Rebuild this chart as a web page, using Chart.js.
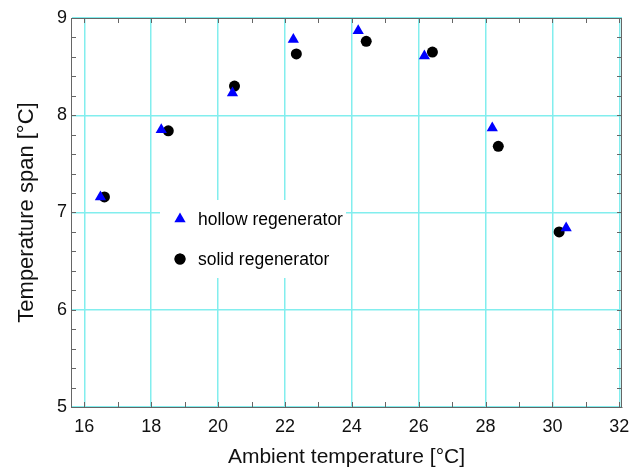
<!DOCTYPE html>
<html>
<head>
<meta charset="utf-8">
<script src="https://cdn.jsdelivr.net/npm/chart.js@4"></script>
<style>
  html, body { margin: 0; padding: 0; background: #fff; }
  #wrap { width: 630px; height: 468px; }
</style>
</head>
<body>
<div id="wrap"><canvas id="chart" width="630" height="468"></canvas></div>
<script>
// values
const hollowX = [16.48, 18.30, 20.43, 22.25, 24.19, 26.17, 28.20, 30.41];
const hollowY = [7.16, 7.85, 8.23, 8.78, 8.87, 8.61, 7.87, 6.84];
const solidX = [16.60, 18.51, 20.49, 22.34, 24.43, 26.41, 28.38, 30.20];
const solidY = [7.16, 7.84, 8.30, 8.63, 8.76, 8.65, 7.68, 6.80];
const xTicks = [16, 18, 20, 22, 24, 26, 28, 30, 32];
const yTicks = [5, 6, 7, 8, 9];
const seriesNames = ["hollow regenerator", "solid regenerator"];

const FONT = "'Liberation Sans', Arial, sans-serif";
const GRID = "rgb(130,238,238)";

function pts(xs, ys) {
  return xs.map((x, i) => ({ x: x, y: ys[i] }));
}

// minor ticks + top/right frame
const framePlugin = {
  id: "frame",
  afterDraw(chart) {
    const ctx = chart.ctx;
    const a = chart.chartArea;
    const xs = chart.scales.x, ys = chart.scales.y;
    ctx.save();
    ctx.strokeStyle = "#666";
    ctx.lineWidth = 1;
    ctx.strokeRect(a.left + 0.5, a.top + 0.5, a.right - a.left - 1, a.bottom - a.top);
    ctx.beginPath();
    for (let v = 16; v <= 32; v += 1) {
      const p = Math.round(xs.getPixelForValue(v)) + 0.5;
      ctx.moveTo(p, a.bottom); ctx.lineTo(p, a.bottom - 5);
      ctx.moveTo(p, a.top); ctx.lineTo(p, a.top + 5);
    }
    for (let v = 5; v <= 9.001; v += 0.2) {
      const p = Math.round(ys.getPixelForValue(v)) + 0.5;
      ctx.moveTo(a.left, p); ctx.lineTo(a.left + 5, p);
      ctx.moveTo(a.right, p); ctx.lineTo(a.right - 5, p);
    }
    ctx.stroke();
    ctx.restore();
  }
};

// legend box inside the plot
const legendPlugin = {
  id: "boxLegend",
  beforeDatasetsDraw(chart) {
    const ctx = chart.ctx;
    ctx.save();
    ctx.fillStyle = "#fff";
    ctx.fillRect(160, 200, 186, 78);
    ctx.font = "17.5px " + FONT;
    ctx.textBaseline = "middle";
    const rows = [219, 259];
    chart.data.datasets.forEach((ds, i) => {
      Chart.helpers.drawPoint(ctx, {
        pointStyle: ds.pointStyle,
        radius: ds.pointRadius,
        borderWidth: 0,
        rotation: 0
      }, 180, rows[i]);
      ctx.fillStyle = ds.backgroundColor;
      ctx.fill();
      ctx.fillStyle = "#000";
      ctx.fillText(seriesNames[i], 198, rows[i] + 1);
    });
    ctx.restore();
  }
};

new Chart(document.getElementById("chart"), {
  type: "scatter",
  data: {
    datasets: [
      {
        label: seriesNames[0],
        data: pts(hollowX, hollowY),
        pointStyle: "triangle",
        pointRadius: 6.5,
        backgroundColor: "#0000ff",
        borderColor: "#0000ff",
        borderWidth: 0
      },
      {
        label: seriesNames[1],
        data: pts(solidX, solidY),
        pointStyle: "circle",
        pointRadius: 5.5,
        backgroundColor: "#000",
        borderColor: "#000",
        borderWidth: 0
      }
    ]
  },
  options: {
    responsive: false,
    animation: false,
    layout: { padding: { top: 18, right: 8, left: 0, bottom: 0 } },
    plugins: {
      legend: { display: false },
      tooltip: { enabled: false }
    },
    scales: {
      x: {
        type: "linear",
        min: 15.6,
        max: 32.08,
        afterBuildTicks: s => { s.ticks = xTicks.map(v => ({ value: v })); },
        afterFit: s => { s.height = 61; s.paddingLeft = 0; s.paddingRight = 0; },
        grid: { color: GRID, lineWidth: 1.5, drawTicks: false },
        border: { color: "#666", width: 1 },
        ticks: { color: "#111", padding: 9, font: { family: FONT, size: 18 }, maxRotation: 0 },
        title: { display: true, text: "Ambient temperature [°C]", color: "#111", font: { family: FONT, size: 21 }, padding: { top: 2, bottom: -1.5 } }
      },
      y: {
        type: "linear",
        min: 5,
        max: 9,
        afterBuildTicks: s => { s.ticks = yTicks.map(v => ({ value: v })); },
        afterFit: s => { s.width = 71; s.paddingTop = 0; s.paddingBottom = 0; },
        grid: { color: GRID, lineWidth: 1.5, drawTicks: false },
        border: { color: "#666", width: 1 },
        ticks: { color: "#111", padding: 4, font: { family: FONT, size: 18 } },
        title: { display: true, text: "Temperature span [°C]", color: "#111", font: { family: FONT, size: 22 }, padding: { top: 14, bottom: 0 } }
      }
    }
  },
  plugins: [legendPlugin, framePlugin]
});
</script>
</body>
</html>
